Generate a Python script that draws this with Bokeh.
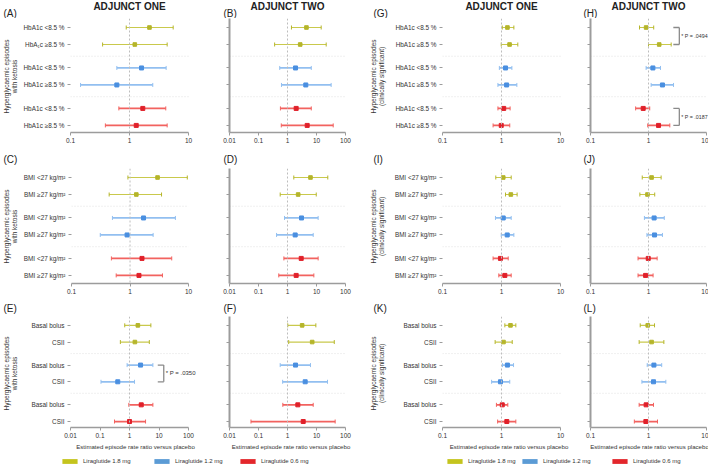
import math
from bokeh.plotting import figure
from bokeh.layouts import column, row
from bokeh.models import (Range1d, FixedTicker, NumeralTickFormatter, Span, Label,
                          Legend, LegendItem, ColumnDataSource)
from bokeh.embed import file_html
from bokeh.resources import INLINE

FONT = "Liberation Sans"

# ---------------- data ----------------
ARMS = ["Liraglutide 1.8 mg", "Liraglutide 1.2 mg", "Liraglutide 0.6 mg"]
ROW_ARM = [0, 0, 1, 1, 2, 2]

HBA_LABELS_A = ["HbA1c <8.5 %", "HbA₁c ≥8.5 %", "HbA1c <8.5 %", "HbA1c ≥8.5 %", "HbA1c <8.5 %", "HbA1c ≥8.5 %"]
HBA_LABELS = ["HbA1c <8.5 %", "HbA1c ≥8.5 %"] * 3
BMI_LABELS = ["BMI <27 kg/m²", "BMI ≥27 kg/m²"] * 3
REG_LABELS = ["Basal bolus", "CSII"] * 3

HEADERS = ["ADJUNCT ONE", "ADJUNCT TWO", "ADJUNCT ONE", "ADJUNCT TWO"]
YTITLES = ["Hyperglycaemic episodes\nwith ketosis", None,
           "Hyperglycaemic episodes\n(clinically significant)", None]
XTITLE = "Estimated episode rate ratio versus placebo"

XT_NARROW = [0.1, 1, 10]
XT_WIDE = [0.01, 0.1, 1, 10, 100]

# ketosis, HbA1c (A: ADJUNCT ONE, B: ADJUNCT TWO)
A_est = [2.18, 1.23, 1.60, 0.61, 1.68, 1.30]
A_lo = [0.88, 0.35, 0.61, 0.148, 0.66, 0.39]
A_hi = [5.5, 4.35, 4.18, 2.48, 4.12, 4.35]
B_est = [4.5, 2.74, 1.89, 4.27, 1.99, 4.77]
B_lo = [1.37, 0.36, 0.54, 0.62, 0.57, 0.61]
B_hi = [14.5, 21.6, 6.6, 32.0, 6.6, 37.7]
# ketosis, BMI
C_est = [2.95, 1.28, 1.70, 0.89, 1.60, 1.42]
C_lo = [0.92, 0.44, 0.50, 0.31, 0.48, 0.58]
C_hi = [9.5, 3.45, 5.95, 2.48, 5.15, 3.58]
D_est = [6.2, 2.33, 3.04, 1.84, 2.97, 1.99]
D_lo = [1.65, 0.56, 0.79, 0.42, 0.75, 0.50]
D_hi = [24.5, 9.8, 11.4, 7.7, 11.4, 8.1]
# ketosis, regimen
E_est = [1.92, 1.52, 2.37, 0.40, 2.50, 1.00]
E_lo = [0.69, 0.49, 0.83, 0.108, 0.95, 0.31]
E_hi = [5.3, 4.7, 6.2, 1.48, 6.2, 3.5]
F_est = [3.2, 7.1, 1.89, 4.07, 2.27, 3.48]
F_lo = [1.02, 1.10, 0.56, 0.68, 0.69, 0.055]
F_hi = [9.5, 41.0, 6.2, 24.0, 7.7, 44.0]
# clinically significant, HbA1c
G_est = [1.26, 1.37, 1.17, 1.22, 1.09, 0.99]
G_lo = [1.03, 0.99, 0.92, 0.87, 0.87, 0.72]
G_hi = [1.62, 1.89, 1.50, 1.82, 1.40, 1.38]
H_est = [0.91, 1.53, 1.19, 1.74, 0.81, 1.49]
H_lo = [0.70, 1.00, 0.91, 1.11, 0.60, 0.97]
H_hi = [1.23, 2.46, 1.61, 2.70, 1.05, 2.33]
# clinically significant, BMI
I_est = [1.07, 1.44, 1.07, 1.25, 0.96, 1.14]
I_lo = [0.80, 1.17, 0.79, 0.99, 0.72, 0.90]
I_hi = [1.46, 1.84, 1.46, 1.62, 1.30, 1.46]
J_est = [1.13, 0.96, 1.25, 1.27, 0.99, 0.89]
J_lo = [0.78, 0.71, 0.85, 0.94, 0.66, 0.66]
J_hi = [1.65, 1.28, 1.87, 1.74, 1.41, 1.20]
# clinically significant, regimen
K_est = [1.42, 1.08, 1.26, 0.96, 1.03, 1.23]
K_lo = [1.14, 0.78, 1.04, 0.68, 0.82, 0.86]
K_hi = [1.75, 1.52, 1.60, 1.38, 1.28, 1.75]
L_est = [0.97, 1.13, 1.24, 1.22, 0.91, 0.90]
L_lo = [0.72, 0.69, 0.95, 0.77, 0.69, 0.57]
L_hi = [1.27, 1.84, 1.69, 1.99, 1.22, 1.43]

# significance brackets: (row a, row b, bracket x value, text)
BRACKETS = {
    "E": [(2, 3, 14.5, "* P = .0350", "6px")],
    "H": [(0, 1, 3.4, "* P = .0494", "5.3px"), (4, 5, 3.4, "* P = .0187", "5.3px")],
}

# ---------------- style / layout ----------------
LINE_C = ["#c9c94c", "#92bff0", "#f2625f"]
MARK_C = ["#b5b52a", "#4a8fe0", "#e0202a"]
SWATCH_C = ["#c4c41e", "#5b9bd5", "#e3262b"]
LINE_W = [1.2, 1.8, 1.8]
AXIS_C = "#9c9c9c"
TXT_C = "#333333"
TOTAL_W = 708

COLS = [dict(x0=0, strip=20, cx=10, w=180, l=50, fw=118, ldx=-67),
        dict(x0=200, strip=0, cx=0, w=152, l=29, fw=116, ldx=-6),
        dict(x0=352, strip=36, cx=25, w=187, l=54, fw=118, ldx=-69),
        dict(x0=575, strip=0, cx=0, w=133, l=15, fw=116, ldx=-7)]
ROWS = [dict(strip=18, h=132, b=18, ly=5, hy=12.5),
        dict(strip=18, h=130, b=15, ly=9, hy=None),
        dict(strip=18, h=136, b=23, ly=8.5, hy=None)]
LEG_H = 13
LEG_X = [60, 152, 238, 445, 520, 610]

PX_UNIT = 17.0
GROUP_GAP = 0.38
YS = [i + GROUP_GAP * (i // 2) for i in range(6)]
SEPS = [(YS[1] + YS[2]) / 2, (YS[3] + YS[4]) / 2]
Y_TOP = YS[0] - 9 / PX_UNIT


def yrange(r):
    fh = r["h"] - r["b"]
    return Range1d(Y_TOP + fh / PX_UNIT, Y_TOP)


def blank(width, height, xr=None, yr=None, bottom=0):
    f = figure(width=width, height=height, x_range=xr or Range1d(0, 1),
               y_range=yr or Range1d(0, 1), output_backend="svg", toolbar_location=None,
               min_border_left=0, min_border_right=0, min_border_top=0,
               min_border_bottom=bottom, x_axis_location=None, y_axis_location=None)
    f.grid.visible = False
    f.outline_line_color = None
    f.background_fill_color = "white"
    f.border_fill_color = "white"
    return f


def panel(letter, est, lo, hi, labels, ci, ri, xticks):
    c, r = COLS[ci], ROWS[ri]
    dec_px = c["fw"] / math.log10(xticks[-1] / xticks[0])
    ext = c["w"] - c["l"] - c["fw"]
    xr = Range1d(xticks[0], xticks[-1] * 10 ** (ext / dec_px))
    p = figure(width=c["w"], height=r["h"], x_axis_type="log", x_range=xr,
               y_range=yrange(r), output_backend="svg",
               toolbar_location=None, min_border_left=c["l"], min_border_right=0,
               min_border_top=0, min_border_bottom=r["b"])
    p.outline_line_color = None
    p.grid.visible = False
    p.background_fill_color = "white"
    p.border_fill_color = "white"

    xa = p.xaxis[0]
    xa.bounds = (xticks[0], xticks[-1])
    xa.ticker = FixedTicker(ticks=xticks)
    xa.formatter = NumeralTickFormatter(format="0.[00]")
    xa.axis_line_color = AXIS_C
    xa.axis_line_width = 1.6
    xa.major_tick_line_color = AXIS_C
    xa.major_tick_out = 3
    xa.major_tick_in = 0
    xa.minor_tick_line_color = None
    xa.major_label_text_font = FONT
    xa.major_label_text_font_size = "6.5px"
    xa.major_label_text_color = TXT_C
    xa.major_label_standoff = 2
    if ri == 2:
        xa.axis_label = XTITLE
        xa.axis_label_text_font = FONT
        xa.axis_label_text_font_size = "6.1px"
        xa.axis_label_text_font_style = "normal"
        xa.axis_label_text_color = TXT_C
        xa.axis_label_standoff = 2

    ya = p.yaxis[0]
    ya.ticker = FixedTicker(ticks=YS)
    ya.minor_tick_line_color = None
    ya.major_tick_line_color = AXIS_C
    ya.major_tick_out = 3
    ya.major_tick_in = 0
    if ci in (0, 2):
        ya.axis_line_color = None
        ya.major_label_overrides = {y: lab for y, lab in zip(YS, labels)}
        ya.major_label_text_font = FONT
        ya.major_label_text_font_size = "6.4px"
        ya.major_label_text_color = TXT_C
        ya.major_label_standoff = 3
    else:
        ya.axis_line_color = AXIS_C
        ya.axis_line_width = 2
        ya.major_label_overrides = {y: "" for y in YS}
        ya.major_label_text_font_size = "1px"

    p.add_layout(Span(location=1, dimension="height", line_color="#bdbdbd",
                      line_dash="2 2", line_width=1))
    p.segment(x0=[xticks[0]] * len(SEPS), x1=[xticks[-1]] * len(SEPS), y0=SEPS, y1=SEPS,
              line_color="#d9d9d9", line_dash="1 2", line_width=0.8)

    for a in range(3):
        idx = [i for i in range(6) if ROW_ARM[i] == a]
        src = ColumnDataSource(dict(y=[YS[i] for i in idx], lo=[lo[i] for i in idx],
                                    hi=[hi[i] for i in idx], est=[est[i] for i in idx]))
        p.segment(x0="lo", x1="hi", y0="y", y1="y", source=src,
                  line_color=LINE_C[a], line_width=LINE_W[a])
        for fld in ("lo", "hi"):
            p.scatter(x=fld, y="y", source=src, marker="dash", angle=math.pi / 2,
                      size=4, line_color=MARK_C[a] if a == 0 else LINE_C[a], line_width=1)
        p.scatter(x="est", y="y", source=src, marker="square", size=3.6 if a == 0 else 4,
                  fill_color=MARK_C[a], line_color=MARK_C[a])

    if letter in BRACKETS:
        f = 10 ** (6 / dec_px)
        for ra, rb, bx, txt, fs in BRACKETS[letter]:
            ya0, yb0 = YS[ra], YS[rb]
            p.segment(x0=[bx, bx / f, bx / f], x1=[bx, bx, bx], y0=[ya0, ya0, yb0],
                      y1=[yb0, ya0, yb0], line_color="#8a8a8a", line_width=1.3)
            p.add_layout(Label(x=bx, y=(ya0 + yb0) / 2, x_offset=2, text=txt,
                               text_font=FONT, text_font_size=fs, text_color=TXT_C,
                               text_baseline="middle", text_align="left"))
    return p


def top_strip(ri, letters):
    r = ROWS[ri]
    s = blank(TOTAL_W, r["strip"])
    for ci, c in enumerate(COLS):
        fl = c["x0"] + c["strip"] + c["l"]
        s.add_layout(Label(x=fl + c["ldx"], y=r["ly"], x_units="screen", y_units="screen",
                           text="(%s)" % letters[ci], text_font=FONT, text_font_size="10px",
                           text_color="#222222", text_baseline="middle", text_align="left"))
        if r["hy"] is not None:
            s.add_layout(Label(x=fl + c["fw"] / 2, y=r["hy"], x_units="screen",
                               y_units="screen", text=HEADERS[ci], text_font=FONT,
                               text_font_size="10px", text_font_style="bold",
                               text_color="#222222", text_baseline="middle",
                               text_align="center"))
    return s


def ytitle_strip(ci, ri):
    c, r = COLS[ci], ROWS[ri]
    s = blank(c["strip"], r["h"], yr=yrange(r), bottom=r["b"])
    s.add_layout(Label(x=c["cx"], y=(YS[0] + YS[-1]) / 2, x_units="screen", y_units="data",
                       angle=math.pi / 2, text=YTITLES[ci], text_font=FONT,
                       text_font_size="6.5px", text_color=TXT_C,
                       text_baseline="middle", text_align="center"))
    return s


specs = [
    [("A", A_est, A_lo, A_hi, HBA_LABELS_A, XT_NARROW), ("B", B_est, B_lo, B_hi, HBA_LABELS, XT_WIDE),
     ("G", G_est, G_lo, G_hi, HBA_LABELS, XT_NARROW), ("H", H_est, H_lo, H_hi, HBA_LABELS, XT_NARROW)],
    [("C", C_est, C_lo, C_hi, BMI_LABELS, XT_NARROW), ("D", D_est, D_lo, D_hi, BMI_LABELS, XT_WIDE),
     ("I", I_est, I_lo, I_hi, BMI_LABELS, XT_NARROW), ("J", J_est, J_lo, J_hi, BMI_LABELS, XT_NARROW)],
    [("E", E_est, E_lo, E_hi, REG_LABELS, XT_WIDE), ("F", F_est, F_lo, F_hi, REG_LABELS, XT_WIDE),
     ("K", K_est, K_lo, K_hi, REG_LABELS, XT_NARROW), ("L", L_est, L_lo, L_hi, REG_LABELS, XT_NARROW)],
]

blocks = []
for ri, rs in enumerate(specs):
    blocks.append(top_strip(ri, [s[0] for s in rs]))
    figs = []
    for ci, s in enumerate(rs):
        if COLS[ci]["strip"]:
            figs.append(ytitle_strip(ci, ri))
        figs.append(panel(s[0], s[1], s[2], s[3], s[4], ci, ri, s[5]))
    blocks.append(row(*figs))

# legend strip (dummy renderers sit outside the visible range)
lp = blank(TOTAL_W, LEG_H)
rends = [lp.quad(left=[-3], right=[-2], top=[-2], bottom=[-3], fill_color=SWATCH_C[a],
                 line_color=None) for a in range(3)]
for k, lx in enumerate(LEG_X):
    a = k % 3
    lp.add_layout(Legend(items=[LegendItem(label=ARMS[a], renderers=[rends[a]])],
                         location=(lx, 1), orientation="horizontal", padding=0, margin=0,
                         glyph_width=19, glyph_height=6, label_height=6, label_standoff=4,
                         label_text_font=FONT, label_text_font_size="6px",
                         label_text_color=TXT_C, border_line_color=None,
                         background_fill_alpha=0))
blocks.append(lp)

layout = column(*blocks)
open("out.html", "w").write(file_html(layout, INLINE))
